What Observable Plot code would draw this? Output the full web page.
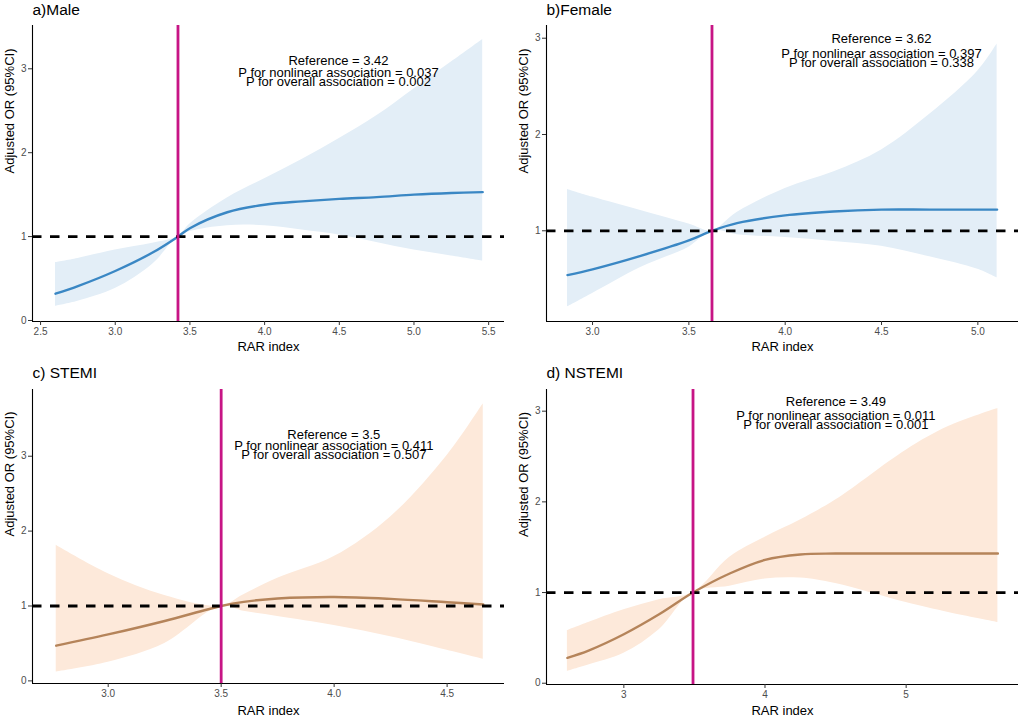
<!DOCTYPE html>
<html><head><meta charset="utf-8">
<script src="https://cdn.jsdelivr.net/npm/d3@7"></script>
<script src="https://cdn.jsdelivr.net/npm/@observablehq/plot@0.6"></script>
<style>
body{margin:0;background:#fff;}
#chart{position:relative;width:1022px;height:719px;background:#fff;overflow:hidden;}
.panel{position:absolute;}
</style></head><body><div id="chart"></div>
<script>
// ---- data ----
const panelTitles = ["a)Male", "b)Female", "c) STEMI", "d) NSTEMI"];
const referenceValues = [3.42, 3.62, 3.5, 3.49];
const pNonlinear = ["0.037", "0.397", "0.411", "0.011"];
const pOverall = ["0.002", "0.338", "0.507", "0.001"];

const maleX  = [2.6, 2.75, 3.0, 3.25, 3.42, 3.5, 3.75, 4.0, 4.25, 4.5, 4.75, 5.0, 5.25, 5.46];
const maleOR = [0.32, 0.41, 0.59, 0.81, 1.0, 1.10, 1.29, 1.38, 1.42, 1.45, 1.47, 1.50, 1.52, 1.53];
const maleLo = [0.17, 0.23, 0.38, 0.67, 1.0, 1.06, 1.13, 1.13, 1.08, 1.02, 0.93, 0.84, 0.77, 0.71];
const maleHi = [0.69, 0.74, 0.84, 0.92, 1.0, 1.15, 1.46, 1.69, 1.92, 2.17, 2.44, 2.76, 3.08, 3.35];

const femaleX  = [2.87, 3.0, 3.25, 3.5, 3.62, 3.75, 4.0, 4.25, 4.5, 4.75, 5.0, 5.1];
const femaleOR = [0.54, 0.60, 0.74, 0.90, 1.0, 1.08, 1.16, 1.20, 1.22, 1.22, 1.22, 1.22];
const femaleLo = [0.21, 0.35, 0.62, 0.83, 1.0, 0.96, 0.93, 0.89, 0.84, 0.73, 0.60, 0.51];
const femaleHi = [1.43, 1.35, 1.21, 1.07, 1.0, 1.19, 1.44, 1.61, 1.84, 2.21, 2.66, 2.94];

const stemiX  = [2.77, 3.0, 3.25, 3.5, 3.6, 3.75, 4.0, 4.25, 4.5, 4.66];
const stemiOR = [0.47, 0.62, 0.80, 1.0, 1.055, 1.10, 1.12, 1.095, 1.05, 1.02];
const stemiLo = [0.12, 0.25, 0.50, 1.0, 0.93, 0.86, 0.74, 0.59, 0.41, 0.29];
const stemiHi = [1.81, 1.43, 1.14, 1.0, 1.15, 1.37, 1.66, 2.19, 3.01, 3.70];

const nstemiX  = [2.6, 2.75, 3.0, 3.25, 3.49, 3.75, 4.0, 4.25, 4.5, 5.0, 5.3, 5.65];
const nstemiOR = [0.28, 0.36, 0.54, 0.76, 1.0, 1.21, 1.36, 1.42, 1.43, 1.43, 1.43, 1.43];
const nstemiLo = [0.13, 0.20, 0.33, 0.59, 1.0, 1.07, 1.15, 1.16, 1.10, 0.89, 0.78, 0.67];
const nstemiHi = [0.58, 0.67, 0.81, 0.92, 1.0, 1.39, 1.61, 1.80, 2.02, 2.57, 2.83, 3.03];

const xTickSets = [[2.5, 3.0, 3.5, 4.0, 4.5, 5.0, 5.5], [3.0, 3.5, 4.0, 4.5, 5.0], [3.0, 3.5, 4.0, 4.5], [3, 4, 5]];
const yTickSets = [[0, 1, 2, 3], [1, 2, 3], [0, 1, 2, 3], [0, 1, 2, 3]];
const xLabel = "RAR index";
const yLabel = "Adjusted OR (95%CI)";

// ---- layout (styles / positions) ----
const series = [
  [maleX, maleOR, maleLo, maleHi],
  [femaleX, femaleOR, femaleLo, femaleHi],
  [stemiX, stemiOR, stemiLo, stemiHi],
  [nstemiX, nstemiOR, nstemiLo, nstemiHi]
];
const layout = [
  {left: 0, top: 0, width: 511, height: 360, mL: 32, mR: 7, mT: 25, mB: 39,
   xd: [2.446, 5.606], yd: [-0.012, 3.516], fmt: ".1f", line: "#3a87c4", band: "#e3eef7",
   tdx: 70, tdy: [35.5, 47, 56.3], titleDy: -15.5, xlDy: 25.7},
  {left: 511, top: 0, width: 511, height: 360, mL: 35, mR: 4, mT: 25, mB: 39,
   xd: [2.761, 5.211], yd: [0.058, 3.132], fmt: ".1f", line: "#3a87c4", band: "#e3eef7",
   tdx: 99, tdy: [13.3, 28, 37.5], titleDy: -15.8, xlDy: 25.7},
  {left: 0, top: 360, width: 511, height: 359, mL: 32, mR: 7, mT: 29, mB: 36,
   xd: [2.665, 4.754], yd: [-0.035, 3.891], fmt: ".1f", line: "#b5845a", band: "#fde9da",
   tdx: 65.3, tdy: [45.2, 56.2, 65.4], titleDy: -16.3, xlDy: 27.4},
  {left: 511, top: 360, width: 511, height: 359, mL: 35, mR: 4, mT: 29, mB: 35,
   xd: [2.452, 5.796], yd: [-0.014, 3.239], fmt: "d", line: "#b5845a", band: "#fde9da",
   tdx: 53.4, tdy: [12.7, 26.2, 35.4], titleDy: -16, xlDy: 26.7}
];

const font = "'Liberation Sans', Arial, Helvetica, sans-serif";
const chart = document.getElementById("chart");

layout.forEach((L, i) => {
  const [xs, ors, los, his] = series[i];
  const data = xs.map((x, j) => ({x, or: ors[j], lo: los[j], hi: his[j]}));
  const lines = [
    `Reference = ${referenceValues[i]}`,
    `P for nonlinear association = ${pNonlinear[i]}`,
    `P for overall association = ${pOverall[i]}`
  ];
  const plot = Plot.plot({
    width: L.width, height: L.height,
    marginLeft: L.mL, marginRight: L.mR, marginTop: L.mT, marginBottom: L.mB,
    style: {fontFamily: font, background: "transparent", overflow: "visible"},
    x: {domain: L.xd},
    y: {domain: L.yd},
    marks: [
      Plot.areaY(data, {x: "x", y1: "lo", y2: "hi", fill: L.band, curve: "catmull-rom"}),
      Plot.line(data, {x: "x", y: "or", stroke: L.line, strokeWidth: 2.4, curve: "catmull-rom"}),
      Plot.ruleY([1], {stroke: "#000", strokeWidth: 2.8, strokeDasharray: "9.5,8.5"}),
      Plot.ruleX([referenceValues[i]], {stroke: "#C71585", strokeWidth: 2.8}),
      Plot.ruleX([L.xd[0]], {stroke: "#000", strokeWidth: 1.1}),
      Plot.ruleY([L.yd[0]], {stroke: "#000", strokeWidth: 1.1}),
      Plot.axisX({ticks: xTickSets[i], tickFormat: d3.format(L.fmt), tickSize: 4, tickPadding: 2,
        fontSize: 10, stroke: "#333", fill: "#4d4d4d", label: null}),
      Plot.axisY({ticks: yTickSets[i], tickFormat: d3.format("d"), tickSize: 4, tickPadding: 2,
        fontSize: 10, stroke: "#333", fill: "#4d4d4d", label: null}),
      ...lines.map((t, k) => Plot.text([t], {frameAnchor: "top", dx: L.tdx, dy: L.tdy[k],
        text: d => d, lineAnchor: "middle", fontSize: 13, fill: "#000"})),
      Plot.text([panelTitles[i]], {frameAnchor: "top-left", dy: L.titleDy, text: d => d,
        textAnchor: "start", lineAnchor: "middle", fontSize: 15.5, fill: "#000"}),
      Plot.text([xLabel], {frameAnchor: "bottom", dy: L.xlDy, text: d => d,
        lineAnchor: "middle", fontSize: 13, fill: "#000"}),
      Plot.text([yLabel], {frameAnchor: "left", dx: -22.7, rotate: -90, text: d => d,
        lineAnchor: "middle", fontSize: 13, fill: "#000"})
    ]
  });
  const wrap = document.createElement("div");
  wrap.className = "panel";
  wrap.style.left = L.left + "px";
  wrap.style.top = L.top + "px";
  wrap.appendChild(plot);
  chart.appendChild(wrap);
});
</script>
</body></html>
